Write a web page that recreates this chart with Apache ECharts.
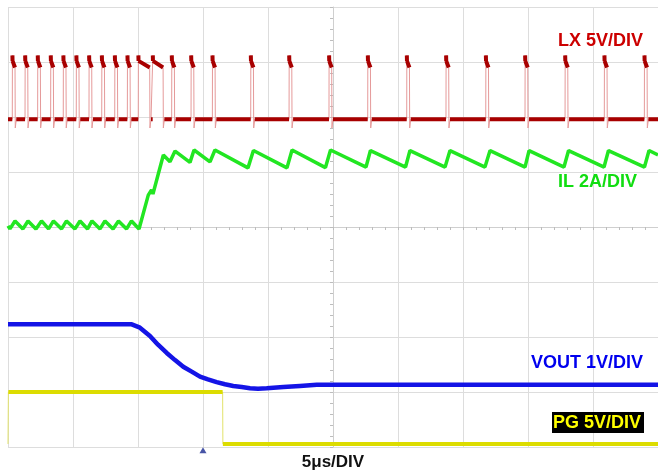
<!DOCTYPE html>
<html><head><meta charset="utf-8">
<script src="https://cdn.jsdelivr.net/npm/echarts@6/dist/echarts.min.js"></script>
<style>html,body{margin:0;padding:0;background:#fff}#c{width:658px;height:473px}</style>
</head><body><div id="c"></div>
<script>
// ---- Oscilloscope settings ----
const timeRangeUs = [-25, 25];      // 5 µs/DIV, 10 divisions
const timePerDiv = 5;
const vertDivs = 8;
const triggerTime = -10;            // µs

// Channel scales (units/div) and offsets (div from bottom)
const lxPerDiv = 5, lxOffsetDiv = 6.0;     // V
const ilPerDiv = 2, ilOffsetDiv = 4.0;     // A
const voutPerDiv = 1, voutOffsetDiv = 1.13; // V (relative to marker)
const pgPerDiv = 5, pgOffsetDiv = 0.055;   // V

// ---- LX switching node (V) ----
const lxRise = [-24.67, -23.69, -22.72, -21.72, -20.75, -19.75, -18.77, -17.79, -16.79, -15.82,
                -14.98, -13.87, -12.41, -10.92, -9.28, -6.33, -3.38, -0.31, 2.67, 5.67, 8.69,
                11.75, 14.77, 17.85, 20.87, 23.95];
const lxFall = [-24.44, -23.46, -22.49, -21.49, -20.52, -19.52, -18.54, -17.56, -16.56, -15.59,
                -14.08, -13.05, -12.18, -10.69, -9.05, -6.10, -3.15, -0.08, 2.90, 5.90, 8.92,
                11.98, 15.00, 18.08, 21.10, 24.18];
const lxLevels = { low: -0.2, spike: 5.6, top: 5.1, topEnd: 4.5, under: -1.0 };

// ---- IL inductor current (A) ----
const ilT = [-25, -24.85, -24.46, -23.85, -23.46, -22.85, -22.42, -21.88, -21.5, -20.88, -20.5,
             -19.85, -19.46, -18.88, -18.54, -17.92, -17.54, -16.92, -16.5, -15.88, -15.5, -14.92,
             -14.21, -13.96, -13.85, -13.05, -12.54, -12.15, -11.0, -10.69, -9.46, -9.08, -6.54,
             -6.12, -3.54, -3.15, -0.58, -0.19, 2.54, 2.88, 5.58, 5.92, 8.62, 9.0, 11.69, 12.08,
             14.77, 15.08, 17.77, 18.12, 20.85, 21.19, 23.96, 24.31, 25];
const ilA = [0.04, -0.07, 0.22, -0.07, 0.22, -0.07, 0.22, -0.07, 0.22, -0.07, 0.22,
             -0.07, 0.22, -0.07, 0.22, -0.07, 0.22, -0.07, 0.22, -0.07, 0.22, -0.07,
             1.16, 1.35, 1.2, 2.62, 2.37, 2.76, 2.35, 2.8, 2.37, 2.8, 2.15,
             2.78, 2.15, 2.8, 2.16, 2.8, 2.18, 2.78, 2.18, 2.78, 2.18, 2.78, 2.18, 2.78,
             2.18, 2.78, 2.18, 2.78, 2.18, 2.78, 2.18, 2.78, 2.62];

// ---- VOUT (V, relative to channel marker) ----
const voutT = [-25, -15.48, -14.85, -14.08, -13.46, -12.79, -12.15, -11.52, -10.87, -10.23, -9.62,
               -8.95, -8.31, -7.67, -7.02, -6.38, -5.77, -5.1, -3.82, -2.54, -1.25, 25];
const voutV = [1.10, 1.10, 1.04, 0.89, 0.73, 0.58, 0.45, 0.33, 0.24, 0.15, 0.10,
               0.05, 0.01, -0.02, -0.04, -0.06, -0.07, -0.06, -0.04, -0.02, 0.0, 0.0];

// ---- PG power good (V) ----
const pgT = [-25, -24.97, -8.49, -8.47, 25];
const pgV = [0, 4.73, 4.73, 0, 0];

// ---- Labels ----
const labels = {
  lx: 'LX 5V/DIV', il: 'IL 2A/DIV', vout: 'VOUT 1V/DIV', pg: 'PG 5V/DIV', time: '5\u03bcs/DIV'
};

// ---- build ----
const zip = (a, b) => a.map((v, i) => [v, b[i]]);
const lxPts = [[timeRangeUs[0], lxLevels.low]];
lxRise.forEach((r, i) => {
  const f = lxFall[i];
  lxPts.push([r, lxLevels.low], [r + 0.01, lxLevels.spike], [r + 0.02, lxLevels.top],
             [f - 0.02, lxLevels.topEnd], [f, lxLevels.under], [f + 0.08, lxLevels.low]);
});
lxPts.push([timeRangeUs[1], lxLevels.low]);

function levelSegments(pts, thr) {
  const out = [];
  for (let i = 0; i < pts.length - 1; i++) {
    if (Math.abs(pts[i + 1][1] - pts[i][1]) < thr) {
      out.push(pts[i], pts[i + 1], [pts[i + 1][0], '-']);
    }
  }
  return out;
}
const chAxis = (off, per) => ({ type: 'value', show: false, min: -off * per, max: (vertDivs - off) * per });
const FONT = '"Liberation Sans", Arial, sans-serif';
const line = (yIdx, data, color, width, z) => ({
  type: 'line', yAxisIndex: yIdx, data, symbol: 'none', showSymbol: false, animation: false,
  silent: true, connectNulls: false, z, lineStyle: { color, width }
});

const chart = echarts.init(document.getElementById('c'), null, { renderer: 'canvas' });
chart.setOption({
  backgroundColor: '#ffffff',
  animation: false,
  grid: { left: 8, top: 7, right: 0, bottom: 26, show: false },
  xAxis: [{
    type: 'value', min: timeRangeUs[0], max: timeRangeUs[1], interval: timePerDiv,
    axisLine: { show: true, onZero: true, onZeroAxisIndex: 0, lineStyle: { color: '#cfcfcf' } },
    axisTick: { show: true, length: 3, lineStyle: { color: '#bdbdbd' } },
    minorTick: { show: true, splitNumber: 5, length: 3, lineStyle: { color: '#bdbdbd' } },
    axisLabel: { show: false },
    splitLine: { show: true, lineStyle: { color: '#dddddd', width: 1 } }
  }],
  yAxis: [
    {
      type: 'value', min: -vertDivs / 2, max: vertDivs / 2, interval: 1,
      axisLine: { show: true, onZero: true, lineStyle: { color: '#cfcfcf' } },
      axisTick: { show: true, length: 3, lineStyle: { color: '#bdbdbd' } },
      minorTick: { show: true, splitNumber: 5, length: 3, lineStyle: { color: '#bdbdbd' } },
      axisLabel: { show: false },
      splitLine: { show: true, lineStyle: { color: '#dddddd', width: 1 } }
    },
    chAxis(lxOffsetDiv, lxPerDiv),
    chAxis(ilOffsetDiv, ilPerDiv),
    chAxis(voutOffsetDiv, voutPerDiv),
    chAxis(pgOffsetDiv, pgPerDiv)
  ],
  series: [
    line(4, zip(pgT, pgV), '#e2e26a', 1, 3),
    line(4, levelSegments(zip(pgT, pgV), 0.5), '#dcdc00', 4, 4),
    line(3, zip(voutT, voutV), '#1414e6', 4.5, 5),
    line(2, zip(ilT, ilA), '#22e622', 3.5, 6),
    line(1, lxPts, '#e59a9a', 1, 7),
    line(1, levelSegments(lxPts, 0.65), '#a80000', 4, 8),
    {
      type: 'scatter', yAxisIndex: 0, data: [[triggerTime, -vertDivs / 2 - 0.06]], clip: false,
      symbol: 'triangle', symbolSize: [7, 6], itemStyle: { color: '#1a2a90' }, silent: true, z: 9
    }
  ],
  graphic: [
    { type: 'rect', z: 100, shape: { x: 552, y: 412, width: 92, height: 21 }, style: { fill: '#000000' } },
    { type: 'text', z: 101, x: 643, y: 41, style: { text: labels.lx, fill: '#cc0000', font: 'bold 18px ' + FONT, textAlign: 'right', textVerticalAlign: 'middle' } },
    { type: 'text', z: 101, x: 637, y: 182, style: { text: labels.il, fill: '#11dd11', font: 'bold 18px ' + FONT, textAlign: 'right', textVerticalAlign: 'middle' } },
    { type: 'text', z: 101, x: 643, y: 363, style: { text: labels.vout, fill: '#0000ee', font: 'bold 18px ' + FONT, textAlign: 'right', textVerticalAlign: 'middle' } },
    { type: 'text', z: 101, x: 641, y: 423, style: { text: labels.pg, fill: '#ffff00', font: 'bold 18px ' + FONT, textAlign: 'right', textVerticalAlign: 'middle' } },
    { type: 'text', z: 101, x: 333, y: 462, style: { text: labels.time, fill: '#111111', font: 'bold 17px ' + FONT, textAlign: 'center', textVerticalAlign: 'middle' } }
  ]
});
</script></body></html>
